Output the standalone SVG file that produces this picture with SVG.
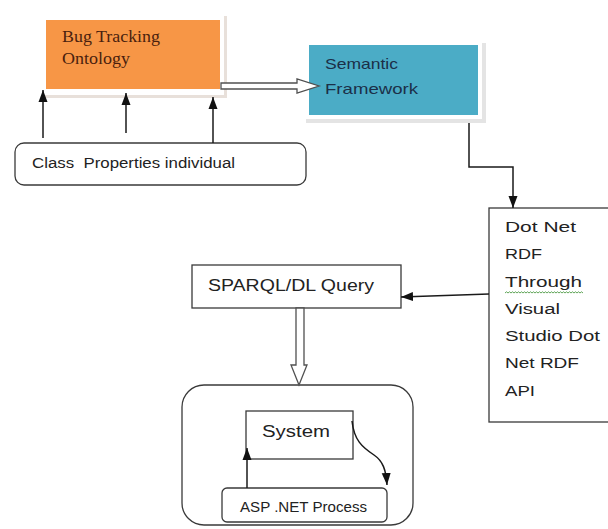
<svg xmlns="http://www.w3.org/2000/svg" width="608" height="529" viewBox="0 0 608 529">
<style>
.box{fill:#ffffff;stroke:#3a3a3a;stroke-width:1.3}
.conn{fill:none;stroke:#1a1a1a;stroke-width:1.5}
.hollow{fill:#ffffff;stroke:#505050;stroke-width:1.3;stroke-linejoin:miter}
.sans{font-family:"Liberation Sans","Open Sans",Arial,sans-serif;fill:#222222}
.serif{font-family:"Liberation Serif","Times New Roman",serif;fill:#4a1f0e;font-size:17px}
</style>
<defs>
<marker id="ah" markerUnits="userSpaceOnUse" markerWidth="13" markerHeight="13" viewBox="0 0 13 13" refX="12" refY="6.5" orient="auto">
<path d="M0,2 L12,6.5 L0,11 Z" fill="#111111"/>
</marker>
</defs>
<rect width="608" height="529" fill="#ffffff"/>

<g id="bug-tracking-ontology">
<rect x="41" y="16" width="186" height="82" fill="#e8e0da"/>
<rect x="40" y="15" width="184" height="80" fill="#ffffff"/>
<rect x="46" y="20" width="174" height="69" fill="#f79646"/>
<text class="serif" x="62" y="42" textLength="98" lengthAdjust="spacingAndGlyphs">Bug Tracking</text>
<text class="serif" x="62" y="64" textLength="68" lengthAdjust="spacingAndGlyphs">Ontology</text>
</g>

<g id="semantic-framework">
<rect x="306" y="43" width="180" height="80" fill="#e4e4e4"/>
<rect x="305" y="42" width="177" height="77" fill="#ffffff"/>
<rect x="309" y="45" width="169" height="70" fill="#4bacc6"/>
<text class="sans" x="325" y="69" font-size="15" style="fill:#1b2f48" textLength="73" lengthAdjust="spacingAndGlyphs">Semantic</text>
<text class="sans" x="325" y="94" font-size="15" style="fill:#1b2f48" textLength="93" lengthAdjust="spacingAndGlyphs">Framework</text>
</g>

<g id="class-properties">
<rect class="box" x="15" y="143" width="291" height="42" rx="9" ry="9"/>
<text class="sans" x="32" y="168" font-size="14" style="white-space:pre" xml:space="preserve" textLength="203" lengthAdjust="spacingAndGlyphs">Class  Properties individual</text>
</g>

<g id="dotnet-rdf">
<rect class="box" x="489" y="208" width="125" height="214"/>
<text class="sans" x="505" y="232" font-size="15.5" textLength="71" lengthAdjust="spacingAndGlyphs">Dot Net</text>
<text class="sans" x="505" y="259" font-size="15.5" textLength="37" lengthAdjust="spacingAndGlyphs">RDF</text>
<text class="sans" x="505" y="287" font-size="15.5" textLength="77" lengthAdjust="spacingAndGlyphs">Through</text>
<path d="M505,293 l1.5,-1.2 1.5,1.2 1.5,-1.2 1.5,1.2 1.5,-1.2 1.5,1.2 1.5,-1.2 1.5,1.2 1.5,-1.2 1.5,1.2 1.5,-1.2 1.5,1.2 1.5,-1.2 1.5,1.2 1.5,-1.2 1.5,1.2 1.5,-1.2 1.5,1.2 1.5,-1.2 1.5,1.2 1.5,-1.2 1.5,1.2 1.5,-1.2 1.5,1.2 1.5,-1.2 1.5,1.2 1.5,-1.2 1.5,1.2 1.5,-1.2 1.5,1.2 1.5,-1.2 1.5,1.2 1.5,-1.2 1.5,1.2 1.5,-1.2 1.5,1.2 1.5,-1.2 1.5,1.2 1.5,-1.2 1.5,1.2 1.5,-1.2 1.5,1.2 1.5,-1.2 1.5,1.2 1.5,-1.2 1.5,1.2 1.5,-1.2 1.5,1.2 1.5,-1.2 1.5,1.2 1.5,-1.2 1.5,1.2" fill="none" stroke="#4e9a45" stroke-width="0.9"/>
<text class="sans" x="505" y="314" font-size="15.5" textLength="55" lengthAdjust="spacingAndGlyphs">Visual</text>
<text class="sans" x="505" y="341" font-size="15.5" textLength="95" lengthAdjust="spacingAndGlyphs">Studio Dot</text>
<text class="sans" x="505" y="368" font-size="15.5" textLength="74" lengthAdjust="spacingAndGlyphs">Net RDF</text>
<text class="sans" x="505" y="396" font-size="15.5" textLength="30" lengthAdjust="spacingAndGlyphs">API</text>
</g>

<g id="sparql-query">
<rect class="box" x="192" y="265" width="209" height="43"/>
<text class="sans" x="208" y="291" font-size="16" textLength="166" lengthAdjust="spacingAndGlyphs">SPARQL/DL Query</text>
</g>

<g id="container">
<rect class="box" x="182" y="385" width="231" height="140" rx="22" ry="22"/>
</g>

<g id="system">
<rect class="box" x="246" y="411" width="107" height="48"/>
<text class="sans" x="262" y="437" font-size="16" textLength="68" lengthAdjust="spacingAndGlyphs">System</text>
</g>

<g id="aspnet-process">
<rect class="box" x="222" y="488" width="165" height="34" rx="5" ry="5"/>
<text class="sans" x="240" y="512" font-size="15" textLength="127" lengthAdjust="spacingAndGlyphs">ASP .NET Process</text>
</g>

<g id="connectors">
<line class="conn" x1="43" y1="138" x2="43" y2="90" marker-end="url(#ah)"/>
<line class="conn" x1="126" y1="133" x2="126" y2="93" marker-end="url(#ah)"/>
<line class="conn" x1="213" y1="143" x2="213" y2="97" marker-end="url(#ah)"/>
<polygon class="hollow" points="221,83 297,83 297,79 319,86 297,93 297,89 221,89"/>
<polyline class="conn" points="469,123 469,167 513,167 513,208" marker-end="url(#ah)"/>
<line class="conn" x1="489" y1="294" x2="401" y2="297" marker-end="url(#ah)"/>
<polygon class="hollow" points="296,308 304,308 304,365 307,365 299,385 291,365 296,365"/>
<line class="conn" x1="247" y1="488" x2="247" y2="448" marker-end="url(#ah)"/>
<path class="conn" d="M352,421 C354,440 362,447 374,455 C383,461 386,470 387,485" marker-end="url(#ah)"/>
</g>
</svg>
